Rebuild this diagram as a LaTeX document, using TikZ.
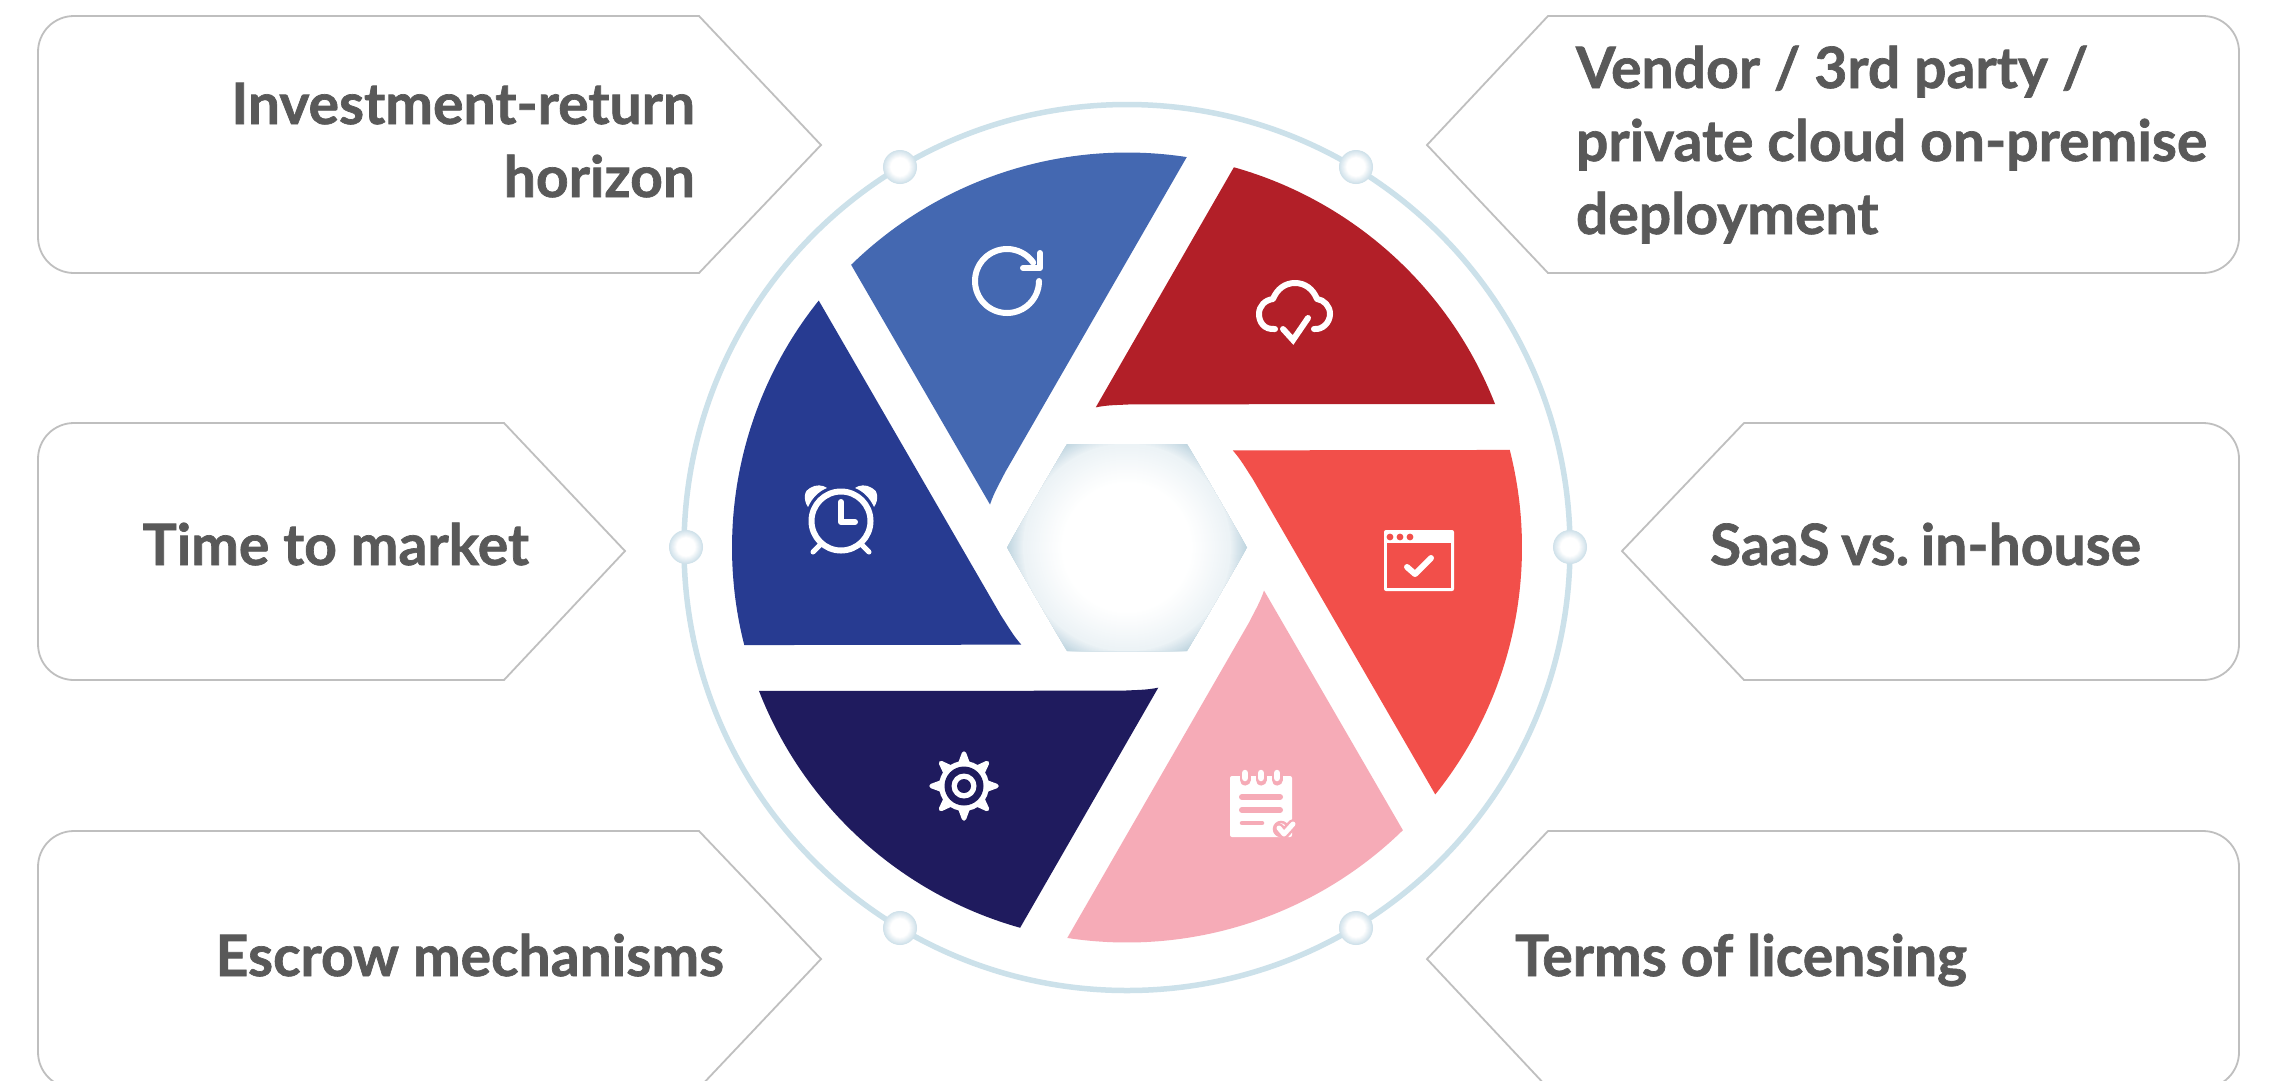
\documentclass[tikz,border=0pt]{standalone}
\usepackage{fontspec}
\setmainfont{Lato}[BoldFeatures={FakeBold=1.2}]
\definecolor{bladeA}{HTML}{4468B1}
\definecolor{bladeB}{HTML}{B21F28}
\definecolor{bladeC}{HTML}{F24F4A}
\definecolor{bladeD}{HTML}{F6ABB7}
\definecolor{bladeE}{HTML}{1F1B5E}
\definecolor{bladeF}{HTML}{273B91}
\definecolor{ringc}{HTML}{CCE1EA}
\definecolor{dotedge}{HTML}{CFE1EA}
\definecolor{hexedge}{HTML}{BFD5E0}
\definecolor{textc}{HTML}{595959}
\definecolor{boxc}{HTML}{BFBFBF}
\tikzset{
  calloutbox/.style={draw=boxc,line width=1.8pt},
  label/.style={inner sep=0pt,outer sep=0pt,text=textc,font=\fontsize{57}{73}\selectfont\bfseries},
  ringdot/.style={circle,minimum size=34pt,inner sep=0pt,fill=dotedge},
  iconline/.style={draw=white,line width=6pt,line cap=round,line join=round},
}
\begin{document}
\begin{tikzpicture}[x=1pt,y=-1pt]
\useasboundingbox (0,0) rectangle (2269,1080);
\clip (0,0) rectangle (2269,1080);
\fill[white] (0,0) rectangle (2269,1080);
% callouts
\draw[calloutbox] (699,16) -- (74,16) .. controls (54,16) and (38,32) .. (38,52) -- (38,237) .. controls (38,257) and (54,273) .. (74,273) -- (699,273) -- (821,145) -- cycle;
\draw[calloutbox] (504,423) -- (74,423) .. controls (54,423) and (38,439) .. (38,459) -- (38,644) .. controls (38,664) and (54,680) .. (74,680) -- (504,680) -- (625,551) -- cycle;
\draw[calloutbox] (699,831) -- (74,831) .. controls (54,831) and (38,847) .. (38,867) -- (38,1052) .. controls (38,1072) and (54,1088) .. (74,1088) -- (699,1088) -- (821,959) -- cycle;
\draw[calloutbox] (1548,16) -- (2203,16) .. controls (2223,16) and (2239,32) .. (2239,52) -- (2239,237) .. controls (2239,257) and (2223,273) .. (2203,273) -- (1548,273) -- (1427,145) -- cycle;
\draw[calloutbox] (1744,423) -- (2203,423) .. controls (2223,423) and (2239,439) .. (2239,459) -- (2239,644) .. controls (2239,664) and (2223,680) .. (2203,680) -- (1744,680) -- (1622,551) -- cycle;
\draw[calloutbox] (1548,831) -- (2203,831) .. controls (2223,831) and (2239,847) .. (2239,867) -- (2239,1052) .. controls (2239,1072) and (2223,1088) .. (2203,1088) -- (1548,1088) -- (1427,959) -- cycle;
% labels
\node[label,anchor=base east,align=right] (tInvest) at (695,197) {Investment-return\\horizon};
\node[label,anchor=base west,align=left] (tVendor) at (1576,234) {Vendor / 3rd party /\\private cloud on-premise\\deployment};
\node[label,anchor=base east] (tTime) at (529,565) {Time to market};
\node[label,anchor=base west] (tSaas) at (1710,565) {\frenchspacing\spaceskip=11.5pt SaaS vs. in-house};
\node[label,anchor=base east] (tEscrow) at (724,976) {Escrow mechanisms};
\node[label,anchor=base west] (tTerms) at (1515,976) {Terms of licensing};
% ring
\coordinate (hub) at (1127,547.5);
\draw[ringc,line width=5.5pt] (hub) circle (443);
\node[ringdot] (d1) at (900,167) {};
\node[ringdot] (d2) at (1356,167) {};
\node[ringdot] (d3) at (1570,547) {};
\node[ringdot] (d4) at (1356,928) {};
\node[ringdot] (d5) at (900,928) {};
\node[ringdot] (d6) at (686,547) {};
\foreach \d in {d1,d2,d3,d4,d5,d6}{
  \foreach \r in {16.5,16,...,9.5}{
    \pgfmathsetmacro\p{100*(\r-9.5)/7.5}
    \fill[dotedge!\p!white] (\d) circle (\r);
  }
}
% blades
\foreach \c [count=\k from 0] in {bladeA,bladeB,bladeC,bladeD,bladeE,bladeF}{
  \begin{scope}[shift={(1127,547.5)},rotate=-60*\k]
    \fill[\c] (-134.3:395) arc (-134.3:-81.3:395) -- (-122,-75) .. controls (-128,-63) and (-133,-55) .. (-137,-43) -- cycle;
  \end{scope}
}
% hexagon
\begin{scope}
  \clip (1067,444) -- (1187,444) -- (1247,547.5) -- (1187,651) -- (1067,651) -- (1007,547.5) -- cycle;
  \fill[hexedge] (hub) circle (125);
  \foreach \r in {120,119,...,65}{
    \pgfmathsetmacro\p{\r>=104 ? 30+70*(\r-104)/16 : 30*(\r-65)/39}
    \fill[hexedge!\p!white] (hub) circle (\r);
  }
\end{scope}
% refresh icon
\draw[iconline] (1039,281) arc (0:325:32);
\draw[iconline] (1023,268) -- (1040,268) -- (1040,253);
% cloud icon
\draw[iconline] (1275,329) .. controls (1264,330) and (1259,322) .. (1259,314) .. controls (1259,306) and (1265,300) .. (1273,299) .. controls (1277,289) and (1285,283) .. (1295,283) .. controls (1305,283) and (1313,289) .. (1317,299) .. controls (1324,300) and (1330,306) .. (1330,314) .. controls (1330,322) and (1323,330) .. (1314,329);
\draw[iconline,line join=miter] (1283,329) -- (1293,340) -- (1308,318);
% window icon
\fill[white,rounded corners=2pt] (1384,530) rectangle (1454,591);
\fill[bladeC] (1387,542.5) rectangle (1451,588);
\fill[bladeC] (1390,537) circle (3.4) (1400,537) circle (3.4) (1410,537) circle (3.4);
\draw[iconline] (1407,567) -- (1415,574) -- (1431,558);
% notepad icon
\fill[white,rounded corners=2pt] (1230,776) rectangle (1292,837);
\foreach \x in {1245,1261,1277}{
  \draw[bladeD,line width=11pt,line cap=round] (\x,774) -- (\x,780);
  \draw[white,line width=6.5pt,line cap=round] (\x,773) -- (\x,778);
}
\draw[bladeD,line width=6pt,line cap=round] (1242,797) -- (1280,797);
\draw[bladeD,line width=6pt,line cap=round] (1242,810) -- (1280,810);
\draw[bladeD,line width=4.5pt,line cap=round] (1242,823) -- (1262,823);
\fill[white,draw=bladeD,line width=2.5pt] (1281,829) circle (7);
\draw[bladeD,line width=10pt,line cap=round,line join=round] (1279,828) -- (1284,834) -- (1293,824);
\draw[white,line width=5pt,line cap=round,line join=round] (1279,828) -- (1284,834) -- (1293,824);
% gear icon
\foreach \a in {0,45,...,315}{
  \begin{scope}[shift={(964,786)},rotate=\a]
    \fill[white,draw=white,line width=4.5pt,line join=round] (-9:23) -- (32.5,0) -- (9:23) -- cycle;
  \end{scope}
}
\fill[white] (964,786) circle (25);
\fill[bladeE] (964,786) circle (19.5);
\fill[white] (964,786) circle (12.5);
\fill[bladeE] (964,786) circle (7);
% alarm icon
\draw[iconline] (841,521) circle (29.5);
\draw[iconline] (841,502) -- (841,522) -- (855,522);
\draw[white,line width=5pt,line cap=round] (822,543) -- (813,552);
\draw[white,line width=5pt,line cap=round] (860,543) -- (869,552);
\fill[white] (808,507) .. controls (803,500) and (804,490) .. (810,488) .. controls (816,484) and (823,485) .. (827,488) .. controls (819,491) and (812,498) .. (808,507) -- cycle;
\fill[white] (874,507) .. controls (879,500) and (878,490) .. (872,488) .. controls (866,484) and (859,485) .. (855,488) .. controls (863,491) and (870,498) .. (874,507) -- cycle;
\end{tikzpicture}
\end{document}
